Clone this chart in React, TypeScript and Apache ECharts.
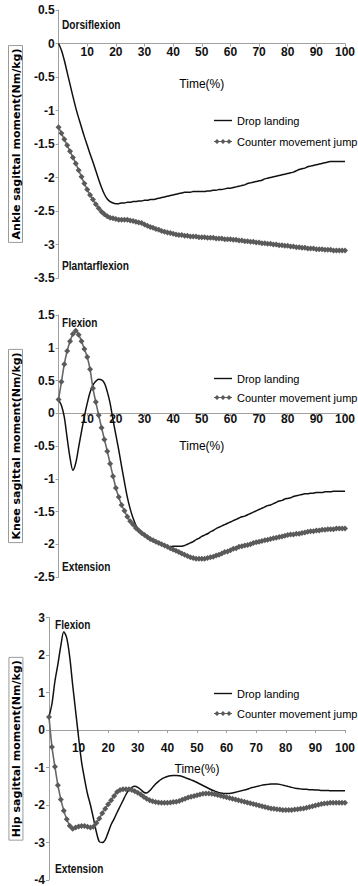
import React, { useEffect, useRef } from "react";
import * as echarts from "echarts";

// Time axis ticks
const X_TICKS_MIN = 0;
const X_TICKS_MAX = 100;
const X_INTERVAL = 10;

const SERIES_NAMES = ["Drop landing", "Counter movement jump"];

// Ankle sagittal moment (Nm/kg), 0..100 % of time
const ankleDrop = [
  0, -0.1, -0.25, -0.43, -0.61, -0.79, -0.96, -1.11, -1.25, -1.39,
  -1.52, -1.65, -1.77, -1.9, -2.03, -2.15, -2.25, -2.32, -2.36, -2.38,
  -2.39, -2.39, -2.38, -2.38, -2.37, -2.37, -2.36, -2.36, -2.35, -2.35,
  -2.34, -2.34, -2.33, -2.33, -2.32, -2.31, -2.3, -2.29, -2.28, -2.27,
  -2.26, -2.25, -2.24, -2.23, -2.22, -2.22, -2.22, -2.21, -2.21, -2.21,
  -2.21, -2.21, -2.2, -2.2, -2.19, -2.19, -2.18, -2.18, -2.17, -2.16,
  -2.16, -2.15, -2.14, -2.13, -2.12, -2.11, -2.09, -2.08, -2.07, -2.06,
  -2.05, -2.04, -2.02, -2.01, -2.0, -1.99, -1.98, -1.97, -1.96, -1.95,
  -1.94, -1.93, -1.92, -1.9, -1.88, -1.87, -1.86, -1.84, -1.83, -1.82,
  -1.81, -1.8, -1.79, -1.78, -1.77, -1.76, -1.76, -1.76, -1.76, -1.76,
  -1.76,
];
const ankleCmj = [
  -1.25, -1.34, -1.43, -1.52, -1.61, -1.7, -1.79, -1.89, -1.99, -2.09,
  -2.18, -2.26, -2.33, -2.4, -2.46, -2.51, -2.55, -2.58, -2.6, -2.61,
  -2.62, -2.63, -2.63, -2.63, -2.63, -2.64, -2.65, -2.66, -2.67, -2.68,
  -2.7, -2.72, -2.74, -2.75, -2.77, -2.78, -2.8, -2.81, -2.82, -2.83,
  -2.84, -2.85, -2.86, -2.86, -2.87, -2.87, -2.88, -2.88, -2.88, -2.89,
  -2.89, -2.89, -2.9, -2.9, -2.9, -2.91, -2.91, -2.91, -2.92, -2.92,
  -2.92, -2.93, -2.93, -2.94, -2.94, -2.95, -2.95, -2.96, -2.96, -2.97,
  -2.97, -2.98, -2.98, -2.99, -2.99, -3.0, -3.0, -3.01, -3.01, -3.02,
  -3.02, -3.03, -3.03, -3.04, -3.04, -3.05, -3.05, -3.06, -3.06, -3.06,
  -3.07, -3.07, -3.07, -3.08, -3.08, -3.08, -3.09, -3.09, -3.09, -3.09,
  -3.09,
];

// Knee sagittal moment (Nm/kg)
const kneeDrop = [
  0.2, 0.12, -0.06, -0.38, -0.68, -0.87, -0.76, -0.52, -0.28, -0.05,
  0.15, 0.32, 0.43, 0.49, 0.52, 0.51, 0.46, 0.33, 0.15, -0.1,
  -0.33, -0.56, -0.81, -1.05, -1.28, -1.46, -1.6, -1.71, -1.78, -1.84,
  -1.87, -1.9, -1.92, -1.95, -1.97, -1.98, -2.0, -2.02, -2.03, -2.04,
  -2.03, -2.03, -2.03, -2.03, -2.02, -2.0, -1.98, -1.96, -1.93, -1.91,
  -1.88, -1.86, -1.84, -1.81, -1.79, -1.76, -1.74, -1.72, -1.7, -1.68,
  -1.66, -1.64, -1.62, -1.6, -1.58, -1.57, -1.55, -1.53, -1.51, -1.49,
  -1.47, -1.45, -1.43, -1.41, -1.4, -1.38, -1.36, -1.34, -1.33, -1.31,
  -1.3, -1.29, -1.27, -1.26, -1.25, -1.24, -1.23, -1.23, -1.22, -1.22,
  -1.21, -1.21, -1.21, -1.2, -1.2, -1.2, -1.19, -1.19, -1.19, -1.19,
  -1.19,
];
const kneeCmj = [
  0.21, 0.48, 0.75, 0.95, 1.1, 1.21, 1.26, 1.2, 1.1, 0.98,
  0.86, 0.67, 0.38, 0.17, -0.03, -0.22, -0.4, -0.58, -0.77, -0.96,
  -1.14, -1.28, -1.4, -1.49, -1.58, -1.65, -1.7, -1.75, -1.79, -1.83,
  -1.86, -1.89, -1.92, -1.94, -1.96, -1.98, -2.0, -2.02, -2.04, -2.06,
  -2.08, -2.1, -2.12, -2.14, -2.16, -2.18, -2.2, -2.21, -2.22, -2.22,
  -2.22, -2.22, -2.21, -2.2, -2.19, -2.17, -2.16, -2.14, -2.12, -2.11,
  -2.09, -2.07, -2.06, -2.04, -2.03, -2.02, -2.01, -2.0, -1.98, -1.97,
  -1.96, -1.95, -1.94, -1.93, -1.92, -1.91, -1.9, -1.89, -1.88, -1.87,
  -1.86, -1.85, -1.85, -1.84, -1.84, -1.83, -1.82, -1.81, -1.8, -1.8,
  -1.79, -1.79, -1.78, -1.78, -1.77, -1.77, -1.77, -1.76, -1.76, -1.76,
  -1.76,
];

// Hip sagittal moment (Nm/kg)
const hipDrop = [
  0.35, 0.7, 1.3, 1.75, 2.25, 2.62, 2.45, 1.95, 1.2, 0.5,
  -0.2, -0.85, -1.3, -1.7, -2.0, -2.35, -2.72, -2.98, -3.0, -2.93,
  -2.73, -2.52, -2.37, -2.2, -2.04, -1.88, -1.72, -1.6, -1.53, -1.5,
  -1.53, -1.59, -1.66, -1.68, -1.62, -1.53, -1.44, -1.37, -1.31, -1.27,
  -1.24, -1.22, -1.21, -1.21, -1.22, -1.24, -1.27, -1.3, -1.33, -1.36,
  -1.4, -1.44, -1.48, -1.52, -1.56, -1.6, -1.63, -1.66, -1.68, -1.69,
  -1.69, -1.69, -1.68, -1.66, -1.64, -1.62, -1.6, -1.58, -1.55, -1.53,
  -1.51, -1.49, -1.47, -1.46, -1.45, -1.44, -1.44, -1.44, -1.45, -1.47,
  -1.49, -1.51, -1.53, -1.55, -1.56, -1.57, -1.58, -1.58, -1.59, -1.59,
  -1.6, -1.6, -1.61, -1.61, -1.61, -1.62, -1.62, -1.62, -1.62, -1.62,
  -1.62,
];
const hipCmj = [
  0.35, -0.45, -0.98, -1.47, -1.85, -2.15, -2.38, -2.55, -2.63, -2.6,
  -2.57, -2.56, -2.56, -2.58, -2.6, -2.58, -2.48, -2.36, -2.22, -2.1,
  -1.98, -1.87, -1.76, -1.65, -1.6, -1.58, -1.58, -1.58, -1.6, -1.63,
  -1.67, -1.72, -1.78, -1.83, -1.87, -1.9, -1.92, -1.93, -1.94, -1.94,
  -1.94, -1.93, -1.92, -1.91, -1.89, -1.86, -1.83, -1.8, -1.78, -1.76,
  -1.74, -1.72, -1.7, -1.69, -1.69, -1.7, -1.71, -1.73, -1.75, -1.77,
  -1.79, -1.81, -1.83, -1.85, -1.87, -1.89, -1.91, -1.93, -1.95, -1.97,
  -1.99, -2.01, -2.03, -2.05, -2.07, -2.09, -2.1, -2.11, -2.12, -2.13,
  -2.13, -2.13, -2.13, -2.12, -2.11, -2.1, -2.09, -2.07, -2.05, -2.03,
  -2.01, -1.99, -1.97, -1.96, -1.95, -1.94, -1.94, -1.94, -1.94, -1.94,
  -1.94,
];

const PANELS = [
  {
    title: "Ankle sagittal moment(Nm/kg)",
    yMin: -3.5, yMax: 0.5, yInterval: 0.5,
    drop: ankleDrop, cmj: ankleCmj,
    upper: "Dorsiflexion", lower: "Plantarflexion",
  },
  {
    title: "Knee sagittal moment(Nm/kg)",
    yMin: -2.5, yMax: 1.5, yInterval: 0.5,
    drop: kneeDrop, cmj: kneeCmj,
    upper: "Flexion", lower: "Extension",
  },
  {
    title: "Hip sagittal moment(Nm/kg)",
    yMin: -4, yMax: 3, yInterval: 1,
    drop: hipDrop, cmj: hipCmj,
    upper: "Flexion", lower: "Extension",
  },
];

// layout (pixels)
const GRIDS = [
  { left: 54, top: 10, width: 298, height: 268 },
  { left: 54, top: 315, width: 298, height: 262 },
  { left: 49, top: 617.5, width: 303, height: 262.5 },
];
const LABEL_MARGINS = [2, 0, 12];
const TIME_GAPS = [34, 27, 33];
const TITLE_GAPS = [26, 26, 24];
const LEGEND_POS = [
  { left: 214, top: 115, gap: 10 },
  { left: 214, top: 373, gap: 8 },
  { left: 214, top: 688, gap: 9 },
];
const NOTE_POS = [
  { upper: [62, 24], lower: [62, 265] },
  { upper: [62, 322], lower: [62, 566] },
  { upper: [55, 624], lower: [55, 868] },
];

const FONT = "'Liberation Sans', Arial, sans-serif";
const AXIS_GRAY = "#a0a0a0";

const ICON_LINE = "path://M0,0h18v1.4h-18z";
const ICON_DIAMONDS =
  "path://M0,2h18v1h-18z M3,0L5.5,2.5L3,5L0.5,2.5Z M9,0L11.5,2.5L9,5L6.5,2.5Z M15,0L17.5,2.5L15,5L12.5,2.5Z";

export default function App() {
  const ref = useRef<HTMLDivElement>(null);

  useEffect(() => {
    if (!ref.current) return;
    const chart = echarts.init(ref.current, undefined, { renderer: "svg" });

    const xAxis = PANELS.map((p, i) => ({
      type: "value",
      gridIndex: i,
      position: "bottom",
      // place the time axis at moment = 0
      offset: -(GRIDS[i].height * (0 - p.yMin)) / (p.yMax - p.yMin),
      min: X_TICKS_MIN,
      max: X_TICKS_MAX,
      interval: X_INTERVAL,
      name: "Time(%)",
      nameLocation: "middle",
      nameGap: TIME_GAPS[i],
      nameTextStyle: { fontFamily: FONT, fontSize: 12, color: "#000" },
      axisLine: { show: true, onZero: false, lineStyle: { color: AXIS_GRAY, width: 1 } },
      axisTick: { show: true, length: 3, lineStyle: { color: AXIS_GRAY } },
      axisLabel: {
        fontFamily: FONT,
        fontSize: 12,
        fontWeight: "bold",
        color: "#111",
        margin: LABEL_MARGINS[i],
        formatter: (v: number) => (v === 0 ? "" : String(v)),
      },
      splitLine: { show: false },
    }));

    const yAxis = PANELS.map((p, i) => ({
      type: "value",
      gridIndex: i,
      min: p.yMin,
      max: p.yMax,
      interval: p.yInterval,
      name: p.title,
      nameLocation: "middle",
      nameRotate: 90,
      nameGap: TITLE_GAPS[i],
      nameTextStyle: {
        fontFamily: "'DejaVu Sans', sans-serif",
        fontWeight: "bold",
        fontSize: 11,
        color: "#000",
        borderColor: "#9a9a9a",
        borderWidth: 1,
        padding: [2, 3, 1, 3],
      },
      axisLine: { show: true, onZero: false, lineStyle: { color: AXIS_GRAY, width: 1 } },
      axisTick: { show: true, length: 3, lineStyle: { color: AXIS_GRAY } },
      axisLabel: { fontFamily: FONT, fontSize: 12, fontWeight: "bold", color: "#111", margin: 4 },
      splitLine: { show: false },
    }));

    const series: any[] = [];
    PANELS.forEach((p, i) => {
      series.push({
        name: SERIES_NAMES[0],
        type: "line",
        xAxisIndex: i,
        yAxisIndex: i,
        data: p.drop.map((v, k) => [k, v]),
        showSymbol: false,
        symbol: "none",
        smooth: 0.3,
        lineStyle: { color: "#111111", width: 1.5 },
        itemStyle: { color: "#111111" },
      });
      series.push({
        name: SERIES_NAMES[1],
        type: "line",
        xAxisIndex: i,
        yAxisIndex: i,
        data: p.cmj.map((v, k) => [k, v]),
        symbol: "diamond",
        symbolSize: 6,
        showAllSymbol: true,
        smooth: 0.3,
        lineStyle: { color: "#676767", width: 1.6 },
        itemStyle: { color: "#5a5a5a" },
      });
    });

    const legend = LEGEND_POS.map((l) => ({
      data: [
        { name: SERIES_NAMES[0], icon: ICON_LINE },
        { name: SERIES_NAMES[1], icon: ICON_DIAMONDS },
      ],
      orient: "vertical",
      left: l.left,
      top: l.top,
      padding: 0,
      itemGap: l.gap,
      itemWidth: 18,
      itemHeight: 12,
      symbolKeepAspect: true,
      selectedMode: false,
      textStyle: { fontFamily: FONT, fontSize: 11, color: "#000" },
    }));

    const graphic: any[] = [];
    PANELS.forEach((p, i) => {
      const pos = NOTE_POS[i];
      graphic.push({
        type: "text",
        x: pos.upper[0],
        y: pos.upper[1],
        scaleX: 0.78,
        style: { text: p.upper, font: `bold 13px ${FONT}`, fill: "#111", verticalAlign: "middle" },
      });
      graphic.push({
        type: "text",
        x: pos.lower[0],
        y: pos.lower[1],
        scaleX: 0.78,
        style: { text: p.lower, font: `bold 13px ${FONT}`, fill: "#111", verticalAlign: "middle" },
      });
    });

    chart.setOption({
      animation: false,
      backgroundColor: "#ffffff",
      grid: GRIDS,
      xAxis,
      yAxis,
      series,
      legend,
      graphic,
    });

    return () => chart.dispose();
  }, []);

  return (
    <div
      ref={ref}
      style={{ position: "absolute", left: 0, top: 0, width: 358, height: 886 }}
    />
  );
}
